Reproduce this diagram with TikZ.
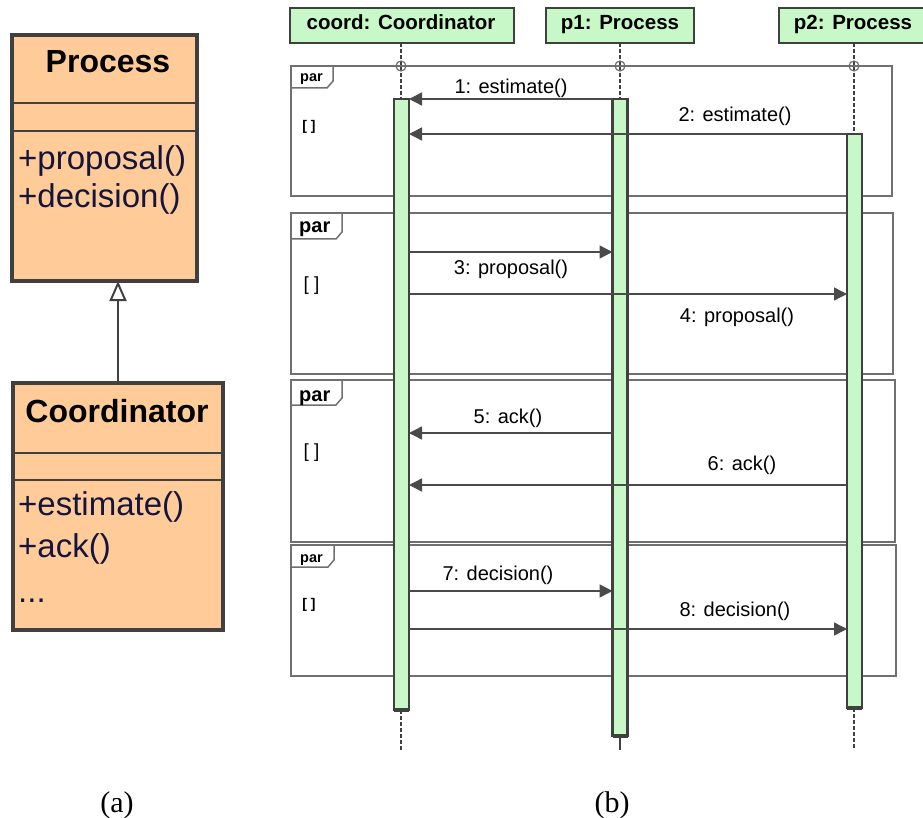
\documentclass[tikz,border=0pt]{standalone}
\usepackage{fontspec}
\setmainfont{Liberation Sans}
\newfontfamily\capfont{Liberation Serif}
\usetikzlibrary{arrows.meta}
\definecolor{umlorange}{HTML}{FFCC99}
\definecolor{umlborder}{HTML}{404040}
\definecolor{umlgreen}{HTML}{C8F8C8}
\definecolor{methodblue}{HTML}{14143C}
\definecolor{framegray}{HTML}{707070}
\definecolor{msggray}{HTML}{4A4A4A}
\begin{document}
\begin{tikzpicture}[x=1pt,y=-1pt,
  classbox/.style={draw=umlborder, line width=3.2pt, fill=umlorange, rectangle, inner sep=0pt, outer sep=0pt, anchor=north west},
  divider/.style={draw=umlborder, line width=1.8pt},
  classtitle/.style={anchor=base, inner sep=0pt, font=\fontsize{32}{38}\selectfont\bfseries},
  method/.style={anchor=base west, inner sep=0pt, text=methodblue, font=\fontsize{33}{40}\selectfont},
  gen/.style={draw=umlborder, line width=2pt, -{Triangle[open, length=20pt, width=17pt, fill=white]}},
  headbox/.style={draw=umlborder, line width=2.6pt, fill=umlgreen, rectangle, inner sep=0pt, outer sep=0pt, anchor=north west, minimum height=35pt},
  headtext/.style={anchor=base, inner sep=0pt, font=\fontsize{20.5}{24}\selectfont\bfseries},
  lifeline/.style={draw=umlborder, line width=1.2pt, dash pattern=on 4pt off 2pt},
  lifesolid/.style={draw=umlborder, line width=1.2pt},
  actbox/.style={draw=umlborder, line width=2.4pt, fill=umlgreen, rectangle, inner sep=0pt, outer sep=0pt, anchor=north, minimum width=15pt},
  actend/.style={draw=umlborder, line width=3.5pt},
  frameline/.style={draw=framegray, line width=1.5pt},
  partext/.style={anchor=base west, inner sep=0pt, font=\bfseries},
  guardtext/.style={anchor=center, inner sep=0pt, font=\bfseries},
  msg/.style={draw=msggray, line width=1.4pt, -{Triangle[length=13pt, width=13pt]}},
  msglabel/.style={anchor=base, inner sep=0pt, font=\fontsize{20}{24}\selectfont},
  caption/.style={anchor=base, inner sep=0pt, font=\capfont\fontsize{30}{34}\selectfont}
]
\useasboundingbox (0,0) rectangle (923,818);

% ---------- (a) class diagram ----------
\node[classbox, minimum width=185pt, minimum height=246pt] (proc) at (12,35) {};
\draw[divider] (proc.west |- 0,103) -- (proc.east |- 0,103);
\draw[divider] (proc.west |- 0,131) -- (proc.east |- 0,131);
\node[classtitle] (proctitle) at (108,73) {Process};
\node[method] (m1) at (18,170) {+proposal()};
\node[method] (m2) at (18,208) {+decision()};

\node[classbox, minimum width=210pt, minimum height=247pt] (coordcls) at (13,383) {};
\draw[divider] (coordcls.west |- 0,453) -- (coordcls.east |- 0,453);
\draw[divider] (coordcls.west |- 0,480) -- (coordcls.east |- 0,480);
\node[classtitle] (coordtitle) at (117,422) {Coordinator};
\node[method] (m3) at (18,515) {+estimate()};
\node[method] (m4) at (18,557) {+ack()};
\node[method] (m5) at (18,602) {...};

\draw[gen] (coordcls.north) -- (coordcls.north |- proc.south);

% ---------- (b) sequence diagram ----------
% frames
\draw[frameline] (291,66) rectangle (892,196);
\draw[frameline] (291,66) -- (333,66) -- (333,81) -- (327,88) -- (291,88);
\draw[frameline] (291,213) rectangle (893,374);
\draw[frameline] (291,213) -- (342,213) -- (342,232) -- (336,239) -- (291,239);
\draw[frameline] (291,380) rectangle (895,542);
\draw[frameline] (291,380) -- (342,380) -- (342,398) -- (336,405) -- (291,405);
\draw[frameline] (291,545) rectangle (896,676);
\draw[frameline] (291,545) -- (334,545) -- (334,560) -- (328,567) -- (291,567);

\node[partext, font=\fontsize{14.5}{17}\selectfont\bfseries] (par1) at (300,82) {par};
\node[partext, font=\fontsize{20}{24}\selectfont\bfseries] (par2) at (299,233) {par};
\node[partext, font=\fontsize{20}{24}\selectfont\bfseries] (par3) at (299,401) {par};
\node[partext, font=\fontsize{14.5}{17}\selectfont\bfseries] (par4) at (300,562) {par};

\node[guardtext, font=\fontsize{14}{17}\selectfont\bfseries] (g1) at (309,127) {[ ]};
\node[guardtext, font=\fontsize{19}{23}\selectfont] (g2) at (311.5,285.5) {[ ]};
\node[guardtext, font=\fontsize{19}{23}\selectfont] (g3) at (311.5,453) {[ ]};
\node[guardtext, font=\fontsize{14}{17}\selectfont\bfseries] (g4) at (309,605) {[ ]};

% heads
\node[headbox, minimum width=224pt] (hcoord) at (290,8) {};
\node[headtext] (hcoordt) at (401,30) {coord: Coordinator};
\node[headbox, minimum width=148pt] (hp1) at (546,8) {};
\node[headtext] (hp1t) at (620,30) {p1: Process};
\node[headbox, minimum width=150pt] (hp2) at (779,8) {};
\node[headtext] (hp2t) at (853,30) {p2: Process};

% lifeline end points
\coordinate (lc0) at (401,43);
\coordinate (lc1) at (401,750);
\coordinate (lp0) at (620,43);
\coordinate (lp1) at (620,750);
\coordinate (lq0) at (854,43);
\coordinate (lq1) at (854,750);

% activations
\node[actbox, minimum height=611pt] (acoord) at (401.5,99) {};
\node[actbox, minimum height=637pt] (ap1) at (620,99) {};
\node[actbox, minimum height=574pt] (ap2) at (854.5,134) {};

\draw[lifeline] (lc0) -- (lc0 |- acoord.north);
\draw[lifeline] (acoord.south -| lc1) -- (lc1);
\draw[lifeline] (lp0) -- (lp0 |- ap1.north);
\draw[lifesolid] (ap1.south -| lp1) -- (lp1);
\draw[lifeline] (lq0) -- (lq0 |- ap2.north);
\draw[lifeline] (ap2.south -| lq1) -- (lq1);

\draw[actend] (acoord.south west) -- (acoord.south east);
\draw[actend] (ap1.south west) -- (ap1.south east);
\draw[actend] (ap2.south west) -- (ap2.south east);

% lifeline / frame crossings
\draw[frameline, line width=1.2pt] (401,66) circle (5);
\draw[frameline, line width=1.2pt] (620,66) circle (5);
\draw[frameline, line width=1.2pt] (854,66) circle (5);

% messages
\draw[msg] (ap1.west |- 0,99) -- (acoord.east |- 0,99);
\node[msglabel] (l1) at (511,94) {1: estimate()};
\draw[msg] (ap2.west |- 0,134) -- (acoord.east |- 0,134);
\node[msglabel] (l2) at (735,122) {2: estimate()};
\draw[msg] (acoord.east |- 0,252) -- (ap1.west |- 0,252);
\node[msglabel] (l3) at (511,275) {3: proposal()};
\draw[msg] (acoord.east |- 0,294) -- (ap2.west |- 0,294);
\node[msglabel] (l4) at (737,322) {4: proposal()};
\draw[msg] (ap1.west |- 0,433) -- (acoord.east |- 0,433);
\node[msglabel] (l5) at (508,423) {5: ack()};
\draw[msg] (ap2.west |- 0,485) -- (acoord.east |- 0,485);
\node[msglabel] (l6) at (742,470) {6: ack()};
\draw[msg] (acoord.east |- 0,591) -- (ap1.west |- 0,591);
\node[msglabel] (l7) at (498,580) {7: decision()};
\draw[msg] (acoord.east |- 0,629) -- (ap2.west |- 0,629);
\node[msglabel] (l8) at (735,616) {8: decision()};

% captions
\node[caption] (capa) at (117,812) {(a)};
\node[caption] (capb) at (612,812) {(b)};
\end{tikzpicture}
\end{document}
